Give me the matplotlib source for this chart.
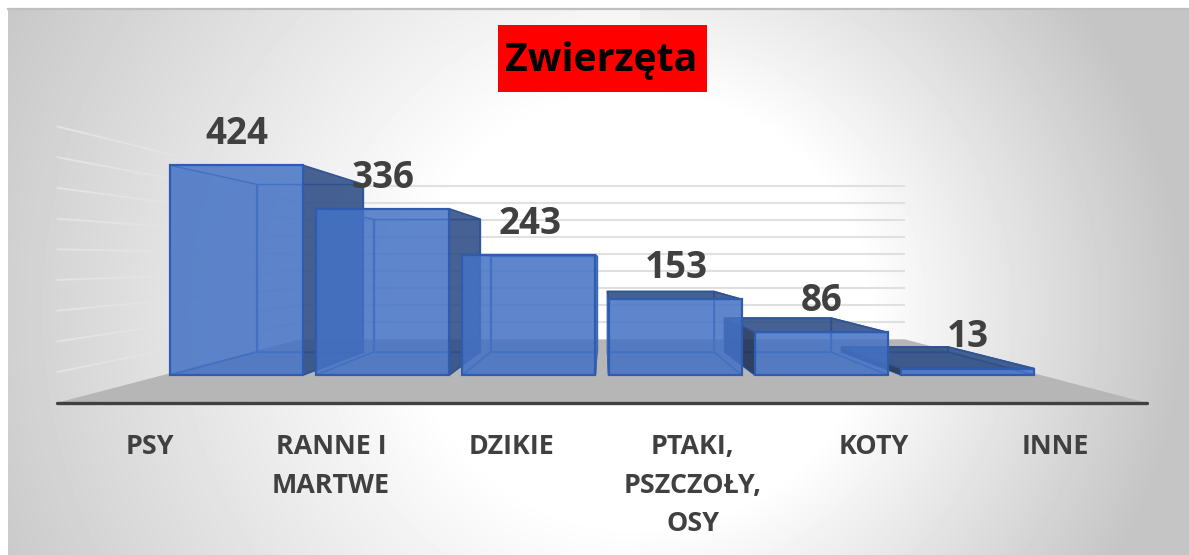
import numpy as np
import matplotlib
matplotlib.use("Agg")
import matplotlib.pyplot as plt
from matplotlib.patches import Polygon, Rectangle

plt.rcParams['font.family'] = ['Open Sans', 'DejaVu Sans']

# Dane
categories = ["PSY", "RANNE I\nMARTWE", "DZIKIE", "PTAKI,\nPSZCZOŁY,\nOSY", "KOTY", "INNE"]
values = [424, 336, 243, 153, 86, 13]
grid_values = [50, 100, 150, 200, 250, 300, 350, 400, 450]

W, H = 1189, 555
# skala: pozycje kategorii i wartosci w pikselach plaszczyzny przedniej
px_x0, px_dx = 236.5, 146.2
px_y0, px_dy = 375.0, 0.4945

# perspektywa: punkt zbiegu w jednostkach danych
vx = (603 - px_x0) / px_dx
vv = (px_y0 - 260) / px_dy
bar_half = 0.455
bar_back = 0.8
floor_front = 1.243
floor_back = 0.69
label_depth = 1.238


def proj(x, v, f):
    return (vx + (x - vx) * f, vv + (v - vv) * f)


fig = plt.figure(figsize=(W / 100, H / 100), dpi=100, facecolor="white")

# Tlo z gradientem radialnym (lewa strona ciemnieje wolniej)
bg = fig.add_axes([0, 0, 1, 1])
yy, xx = np.mgrid[0:H, 0:W]
r = np.hypot(xx - 640, (yy - 310) * 1.05)
slope = np.where(xx < 640, 0.16 / 355, 0.23 / 320)
shade = np.clip(1 - slope * (r - 225), 0.77, 1)
shade[:, :8] = 1
shade[:9, :] = 1
bg.imshow(shade, cmap="gray", vmin=0, vmax=1, extent=(0, W, H, 0), aspect="auto", interpolation="bilinear")
bg.plot([8, W], [8.5, 8.5], color="#bfbfbf", lw=1.6)
bg.set_xlim(0, W)
bg.set_ylim(H, 0)
bg.axis("off")

ax = fig.add_axes([0, 0, 1, 1])
ax.patch.set_alpha(0)
ax.set_xlim((0 - px_x0) / px_dx, (W - px_x0) / px_dx)
ax.set_ylim((px_y0 - H) / px_dy, px_y0 / px_dy)
ax.axis("off")

# Podloga
xl, xr = -0.5, 5.5
floor = [proj(xl, 0, floor_front), proj(xr, 0, floor_front), proj(xr, 0, floor_back), proj(xl, 0, floor_back)]
ax.add_patch(Polygon(floor, closed=True, fc="#b6b6b6", ec="none", zorder=1))

# Linie siatki: sciana lewa i tylna
for g in grid_values:
    left = [proj(xl, g, floor_front), proj(xl, g, floor_back)]
    back = [proj(xl, g, floor_back), proj(xr, g, floor_back)]
    ax.plot(*zip(*left), color="#e3e3e3", lw=1.4, zorder=2, solid_capstyle="butt")
    ax.plot(*zip(*back), color="#e0e0e0", lw=1.5, zorder=2, solid_capstyle="butt")

# Os pozioma
p0, p1 = proj(xl, 0, floor_front), proj(xr, 0, floor_front)
ax.plot([p0[0], p1[0]], [p0[1], p1[1]], color="#404040", lw=2.4, zorder=3, solid_capstyle="round")

# Slupki 3D - najpierw te dalej od punktu zbiegu
edge = "#2f5caf"
for i, v in enumerate(values):
    a, b = i - bar_half, i + bar_half
    z = 30 - abs(i - vx) * 4
    fb = bar_back

    A0, B0 = proj(a, 0, 1), proj(b, 0, 1)
    A1, B1 = proj(a, v, 1), proj(b, v, 1)
    C0, D0 = proj(a, 0, fb), proj(b, 0, fb)
    C1, D1 = proj(a, v, fb), proj(b, v, fb)

    # sciany niewidoczne - tylko delikatne krawedzie
    hidden = [[C0, D0, D1, C1], [A0, C0, C1, A1], [A0, B0, D0, C0]]
    if b >= vx - 0.1:
        hidden.append([B0, D0, D1, B1])
    for poly in hidden:
        ax.add_patch(Polygon(poly, closed=True, fc="#4472c4", alpha=0.10, ec="none", zorder=z))
        ax.add_patch(Polygon(poly, closed=True, fc="none", ec="#3a68b8", lw=1.0, zorder=z))

    # sciany widoczne - ciemniejsze
    if b < vx - 0.1:
        ax.add_patch(Polygon([B0, D0, D1, B1], closed=True, fc="#2f4d85", alpha=0.88, ec="none", zorder=z + 0.2))
        ax.add_patch(Polygon([B0, D0, D1, B1], closed=True, fc="none", ec="#2f5596", lw=1.2, zorder=z + 0.2))
    if a > vx + 0.1:
        ax.add_patch(Polygon([A0, C0, C1, A1], closed=True, fc="#1f3358", alpha=0.88, ec="none", zorder=z + 0.2))
    if v < vv:
        ax.add_patch(Polygon([A1, B1, D1, C1], closed=True, fc="#2f4d85", alpha=0.88, ec="none", zorder=z + 0.3))
        ax.add_patch(Polygon([A1, B1, D1, C1], closed=True, fc="none", ec="#2f5596", lw=1.2, zorder=z + 0.3))

    # przod
    ax.add_patch(Polygon([A0, B0, B1, A1], closed=True, fc="#4472c4", alpha=0.84, ec="none", zorder=z + 1))
    ax.add_patch(Polygon([A0, B0, B1, A1], closed=True, fc="none", ec=edge, lw=1.6, zorder=z + 1))

# Etykiety wartosci
for i, v in enumerate(values):
    ax.text(i + 0.005, v + 63, str(v), ha="center", va="center", fontsize=26.5, fontweight="bold",
            color="#404040", zorder=40)

# Etykiety kategorii
for i, c in enumerate(categories):
    x_lab = proj(i, 0, label_depth)[0]
    ax.text(x_lab + 0.004, (px_y0 - 434) / px_dy, c, ha="center", va="top", fontsize=19.4, fontweight="bold",
            color="#404040", linespacing=1.63, zorder=40)

# Tytul na czerwonym tle
fig.patches.append(Rectangle((498 / W, 1 - 92 / H), 209 / W, 67 / H, transform=fig.transFigure, fc="#ff0000", ec="none", zorder=50))
fig.text(601 / W, 1 - 61 / H, "Zwierzęta", ha="center", va="center", fontsize=28.3, fontweight="bold", color="black", zorder=51)

fig.savefig("out.png", dpi=100)
